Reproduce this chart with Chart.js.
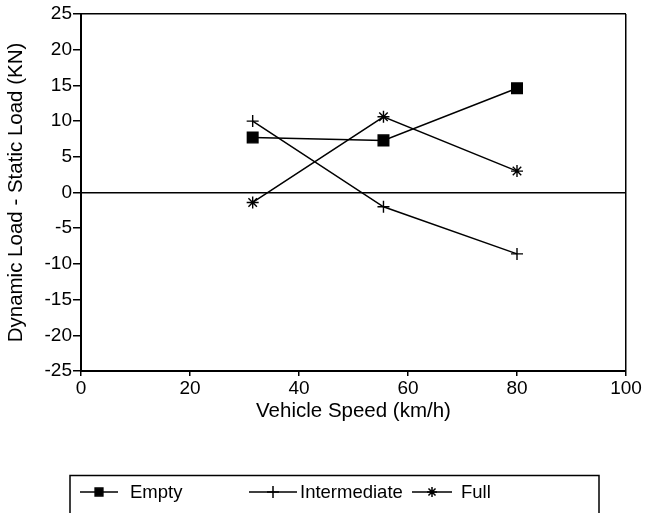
<!DOCTYPE html>
<html>
<head>
<meta charset="utf-8">
<script src="https://cdn.jsdelivr.net/npm/chart.js@4.4.1/dist/chart.umd.min.js"></script>
<style>
html,body{margin:0;padding:0;background:#fff;}
#wrap{width:646px;height:513px;position:relative;}
</style>
</head>
<body>
<div id="wrap"><canvas id="c" width="646" height="513"></canvas></div>
<script>
const speeds = [31.5, 55.5, 80];
const emptyLoad = [7.7, 7.3, 14.6];
const intermediateLoad = [10.0, -2.0, -8.6];
const fullLoad = [-1.4, 10.6, 3.0];
const seriesNames = ['Empty', 'Intermediate', 'Full'];
const xTicks = [0, 20, 40, 60, 80, 100];
const yTicks = [-25, -20, -15, -10, -5, 0, 5, 10, 15, 20, 25];
const xTitle = 'Vehicle Speed (km/h)';
const yTitle = 'Dynamic Load - Static Load (KN)';

const FONT = 'Liberation Sans, Arial, Helvetica, sans-serif';
const pts = (ys) => speeds.map((x, i) => ({x: x, y: ys[i]}));

const legendPlugin = {
  id: 'boxLegend',
  afterDraw(chart) {
    const ctx = chart.ctx;
    ctx.save();
    ctx.strokeStyle = '#000';
    ctx.lineWidth = 1.5;
    ctx.beginPath();
    ctx.moveTo(70, 520); ctx.lineTo(70, 475.5); ctx.lineTo(599, 475.5); ctx.lineTo(599, 520);
    ctx.stroke();
    const y = 492;
    const items = [
      {x1: 80, x2: 118, tx: 130},
      {x1: 249, x2: 297, tx: 300},
      {x1: 412, x2: 452, tx: 461}
    ];
    const legendSizes = [5.5, 6, 5];
    chart.data.datasets.forEach((ds, i) => {
      const it = items[i];
      ctx.strokeStyle = '#000';
      ctx.lineWidth = 1.5;
      ctx.beginPath(); ctx.moveTo(it.x1, y); ctx.lineTo(it.x2, y); ctx.stroke();
      Chart.helpers.drawPoint(ctx, {
        pointStyle: ds.pointStyle, radius: legendSizes[i], borderWidth: 1.3, rotation: 0
      }, (it.x1 + it.x2) / 2, y);
      ctx.fillStyle = '#000';
      ctx.font = '18.5px ' + FONT;
      ctx.textBaseline = 'middle';
      ctx.textAlign = 'left';
      ctx.fillText(ds.label, it.tx, y + 1);
    });
    ctx.restore();
  }
};

const mk = (label, ys, style, r) => ({
  label: label, data: pts(ys), showLine: true,
  borderColor: '#000', backgroundColor: '#000', borderWidth: 1.5,
  pointStyle: style, pointRadius: r, pointHoverRadius: r,
  pointBorderColor: '#000', pointBackgroundColor: '#000', pointBorderWidth: 1.4
});

new Chart(document.getElementById('c'), {
  type: 'scatter',
  data: {
    datasets: [
      mk(seriesNames[0], emptyLoad, 'rect', 7.5),
      mk(seriesNames[1], intermediateLoad, 'cross', 6),
      mk(seriesNames[2], fullLoad, 'star', 6)
    ]
  },
  plugins: [legendPlugin],
  options: {
    responsive: false,
    animation: false,
    layout: {padding: {top: 14, right: 20, left: 0, bottom: 0}},
    plugins: {legend: {display: false}, tooltip: {enabled: false}},
    scales: {
      x: {
        type: 'linear', min: 0, max: 100,
        afterBuildTicks: (s) => { s.ticks = xTicks.map(v => ({value: v})); },
        afterFit: (s) => { s.height = 142; },
        ticks: {color: '#000', font: {family: FONT, size: 19}, padding: 1, maxRotation: 0},
        grid: {
          drawOnChartArea: true, tickLength: 5, tickColor: '#000', tickWidth: 1.5,
          color: (c) => (c.tick && c.tick.value === 100) ? '#000' : 'rgba(0,0,0,0)',
          lineWidth: 1.5
        },
        border: {display: true, color: '#000', width: 2},
        title: {display: true, text: xTitle, color: '#000', font: {family: FONT, size: 20.5}, padding: {top: 0, bottom: 89}}
      },
      y: {
        type: 'linear', min: -25, max: 25,
        afterBuildTicks: (s) => { s.ticks = yTicks.map(v => ({value: v})); },
        afterFit: (s) => { s.width = 81; },
        ticks: {color: '#000', font: {family: FONT, size: 19}, padding: 1},
        grid: {
          drawOnChartArea: true, tickLength: 8, tickColor: '#000', tickWidth: 1.5,
          color: (c) => (c.tick && (c.tick.value === 0 || c.tick.value === 25)) ? '#000' : 'rgba(0,0,0,0)',
          lineWidth: 1.5
        },
        border: {display: true, color: '#000', width: 2},
        title: {display: true, text: yTitle, color: '#000', font: {family: FONT, size: 20.5}, padding: {top: 4, bottom: 0}}
      }
    }
  }
});
</script>
</body>
</html>
